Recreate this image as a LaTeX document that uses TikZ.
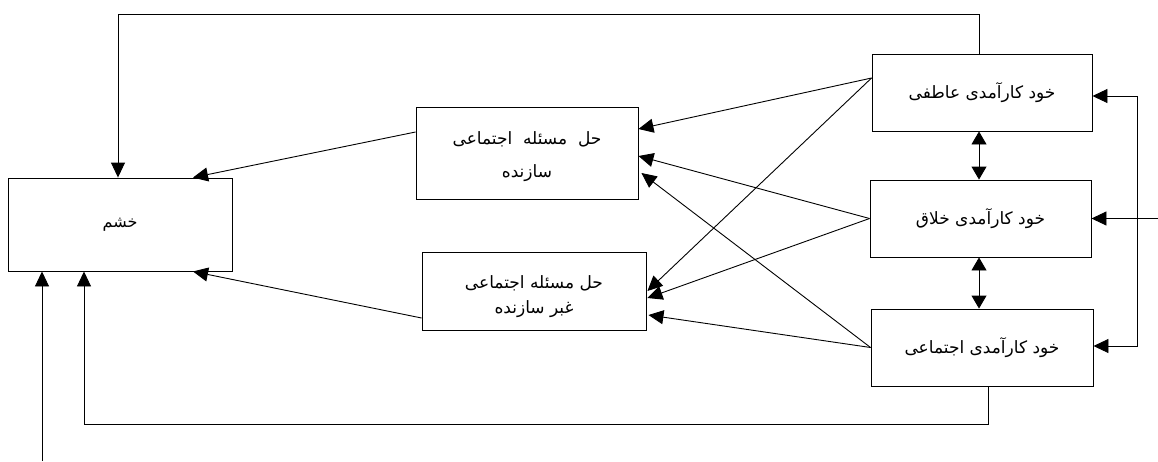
\documentclass[tikz,border=0pt]{standalone}
\usepackage{fontspec}
\newfontfamily\arabicfont[Script=Arabic]{DejaVu Sans}
\TeXXeTstate=1
\usetikzlibrary{arrows.meta}
\tikzset{
  box/.style={draw, line width=0.9pt, rectangle, inner sep=0pt, align=center,
    font=\arabicfont\fontsize{17}{20}\selectfont},
  arr/.style={line width=0.9pt, -{Triangle[length=15pt,width=14pt]}},
  darr/.style={line width=0.9pt, {Triangle[length=13pt,width=15pt]}-{Triangle[length=13pt,width=15pt]}},
}
\begin{document}
\begin{tikzpicture}[x=1pt,y=-1pt]
\useasboundingbox (0,0) rectangle (1158,461);
% boxes
\node[box, minimum width=224pt, minimum height=93pt] (khashm) at (120,224.5)
  {\fontsize{16}{18}\selectfont\beginR خشم\endR};
\node[box, minimum width=222pt, minimum height=92pt] (cons) at (527,153)
  {\rule{0pt}{20pt}\beginR حل\ \ مسئله\ \ اجتماعی\endR\\[13pt]\beginR سازنده\endR};
\node[box, minimum width=224pt, minimum height=78pt] (ncons) at (534,291)
  {\rule{0pt}{25pt}\beginR حل مسئله اجتماعی\endR\\[5pt]\beginR غبر سازنده\endR};
\node[box, minimum width=220pt, minimum height=77pt] (se) at (982,92.5)
  {\beginR خود کارآمدی عاطفی\endR};
\node[box, minimum width=221pt, minimum height=77pt] (sc) at (980.5,218.5)
  {\beginR خود کارآمدی خلاق\endR};
\node[box, minimum width=222pt, minimum height=77pt] (ss) at (982,347.5)
  {\beginR خود کارآمدی اجتماعی\endR};
% helper coordinates
\coordinate (topY) at (0,14);
\coordinate (botY) at (0,424);
\coordinate (inBottom) at (42,461);
\coordinate (brMid) at (1137,218.5);
\coordinate (inRight) at (1158,218.5);
% right boxes to problem solving boxes
\draw[arr] ([yshift=14.5pt]se.west) -- ([yshift=24pt]cons.east);
\draw[arr] ([yshift=14.5pt]se.west) -- ([xshift=1pt,yshift=0pt]ncons.east);
\draw[arr] (sc.west) -- ([yshift=-3pt]cons.east);
\draw[arr] (sc.west) -- ([xshift=1pt,yshift=-7pt]ncons.east);
\draw[arr] (ss.west) -- ([xshift=3pt,yshift=-20pt]cons.east);
\draw[arr] (ss.west) -- ([xshift=2pt,yshift=-24pt]ncons.east);
% problem solving to anger
\draw[arr] ([yshift=21pt]cons.west) -- ([xshift=73pt]khashm.north);
\draw[arr] ([yshift=-27pt]ncons.west) -- ([xshift=73pt]khashm.south);
% double arrows
\draw[darr] ([xshift=-3pt]se.south) -- ([xshift=-3pt]se.south |- sc.north);
\draw[darr] ([xshift=-1.5pt]sc.south) -- ([xshift=-1.5pt]sc.south |- ss.north);
% top loop
\draw[arr] ([xshift=-3pt]se.north) -- ([xshift=-3pt]se.north |- topY) -| ([xshift=-2pt]khashm.north);
% bottom loop
\draw[arr] ([xshift=6pt]ss.south) -- ([xshift=6pt]ss.south |- botY) -| ([xshift=-36pt]khashm.south);
% far left input
\draw[arr] (inBottom) -- (inBottom |- khashm.south);
% right bracket
\draw[arr] (brMid) |- ([yshift=-3.5pt]se.east);
\draw[arr] (brMid) |- ([yshift=1.5pt]ss.east);
\draw[arr] (inRight) -- (sc.east);
\end{tikzpicture}
\end{document}
